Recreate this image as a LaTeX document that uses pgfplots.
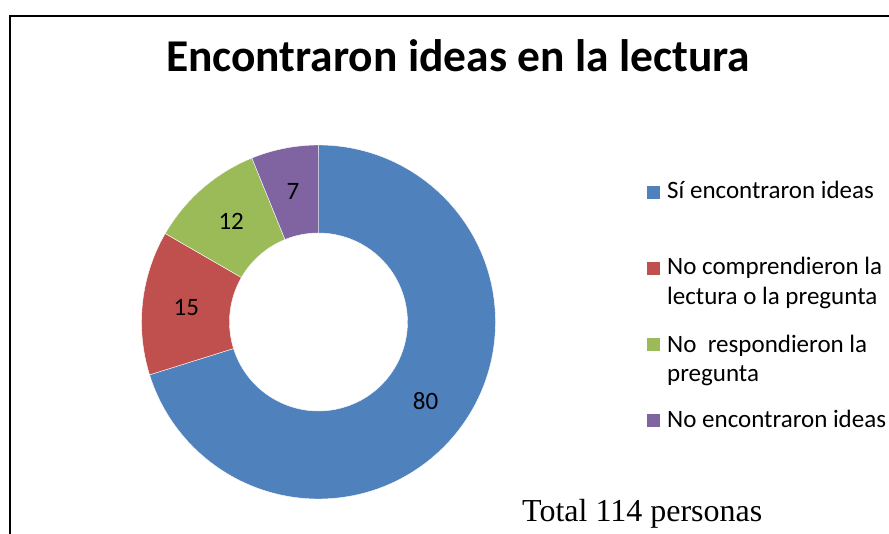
\documentclass[border=0pt]{standalone}
\usepackage{pgfplots}
\usepackage{pgfplotstable}
\pgfplotsset{compat=1.18}
\usepackage{fontspec}
\setmainfont{Carlito}
\newfontfamily\timesfont{Liberation Serif}

\definecolor{sliceA}{HTML}{4F81BD}
\definecolor{sliceB}{HTML}{C0504D}
\definecolor{sliceC}{HTML}{9BBB59}
\definecolor{sliceD}{HTML}{8064A2}

% respuestas (total 114)
\pgfplotstableread{
value
80
15
12
7
}\donutdata

% one ring slice: start angle, end angle, colour
\newcommand\ringslice[3]{%
  \fill[#3, draw=white, line width=0.4pt]
    (axis cs:{cos(#1)},{sin(#1)}) arc[start angle=#1, end angle=#2, radius=177pt]
    -- (axis cs:{0.503*cos(#2)},{0.503*sin(#2)}) arc[start angle=#2, end angle=#1, radius=89pt]
    -- cycle;}

\begin{document}
\begin{tikzpicture}[x=1pt,y=1pt]
\useasboundingbox (0,0) rectangle (889,534);

\pgfplotstablegetelem{0}{value}\of\donutdata \let\vA\pgfplotsretval
\pgfplotstablegetelem{1}{value}\of\donutdata \let\vB\pgfplotsretval
\pgfplotstablegetelem{2}{value}\of\donutdata \let\vC\pgfplotsretval
\pgfplotstablegetelem{3}{value}\of\donutdata \let\vD\pgfplotsretval
\pgfmathsetmacro\tot{\vA+\vB+\vC+\vD}
\pgfmathsetmacro\aA{90}
\pgfmathsetmacro\aB{\aA-360*(\vA/\tot)}
\pgfmathsetmacro\aC{\aB-360*(\vB/\tot)}
\pgfmathsetmacro\aD{\aC-360*(\vC/\tot)}
\pgfmathsetmacro\aE{\aD-360*(\vD/\tot)}
\pgfmathsetmacro\mA{(\aA+\aB)/2}
\pgfmathsetmacro\mB{(\aB+\aC)/2}
\pgfmathsetmacro\mC{(\aC+\aD)/2}
\pgfmathsetmacro\mD{(\aD+\aE)/2}

% chart frame (only top and left edges are visible)
\draw[line width=2pt] (10,-10) -- (10,518) -- (900,518);

\node[anchor=base, font=\bfseries\fontsize{45.5}{54}\selectfont] at (458,462)
  {Encontraron ideas en la lectura};

\begin{axis}[
    at={(318.5pt,212pt)}, anchor=center,
    scale only axis, width=354pt, height=354pt,
    xmin=-1, xmax=1, ymin=-1, ymax=1,
    hide axis,
    clip=false,
]
\ringslice{\aA}{\aB}{sliceA}
\ringslice{\aB}{\aC}{sliceB}
\ringslice{\aC}{\aD}{sliceC}
\ringslice{\aD}{\aE}{sliceD}
\begin{scope}[font=\fontsize{25}{29}\selectfont]
\node at (axis cs:{0.751*cos(\mA)},{0.751*sin(\mA)}) {\vA};
\node at (axis cs:{0.751*cos(\mB)},{0.751*sin(\mB)}) {\vB};
\node at (axis cs:{0.751*cos(\mC)},{0.751*sin(\mC)}) {\vC};
\node at (axis cs:{0.751*cos(\mD)},{0.751*sin(\mD)}) {\vD};
\end{scope}
\end{axis}

% legend
\begin{scope}[font=\fontsize{25}{29}\selectfont]
\fill[sliceA] (647,335) rectangle (660,348);
\fill[sliceB] (647,259) rectangle (660,272);
\fill[sliceC] (647,183) rectangle (660,196);
\fill[sliceD] (647,107) rectangle (660,120);
\node[anchor=base west, inner sep=0] at (667,335) {Sí encontraron ideas};
\node[anchor=base west, inner sep=0] at (667,259) {No comprendieron la};
\node[anchor=base west, inner sep=0] at (667,229) {lectura o la pregunta};
\node[anchor=base west, inner sep=0] at (667,181) {No\ \ respondieron la};
\node[anchor=base west, inner sep=0] at (667,152) {pregunta};
\node[anchor=base west, inner sep=0] at (667,106) {No encontraron ideas};
\end{scope}

\node[anchor=base west, inner sep=0, font=\timesfont\fontsize{32}{36}\selectfont] at (522,12)
  {Total 114 personas};
\end{tikzpicture}
\end{document}
